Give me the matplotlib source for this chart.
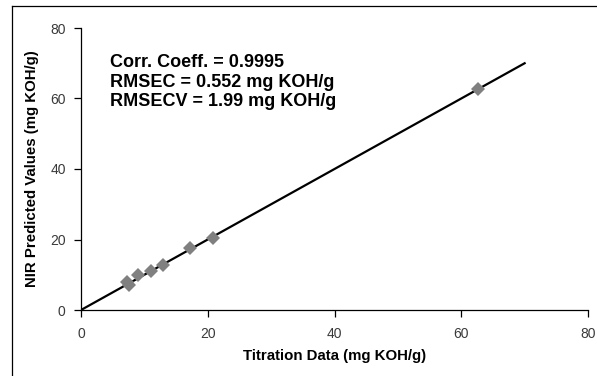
import matplotlib
matplotlib.use("Agg")
import matplotlib.pyplot as plt
from matplotlib.lines import Line2D

plt.rcParams['font.family'] = ['Liberation Sans', 'DejaVu Sans']

titration = [7.2, 7.6, 9.0, 11.1, 13.0, 17.2, 20.9, 62.6]
predicted = [8.0, 7.1, 9.9, 11.1, 12.8, 17.5, 20.3, 62.8]
fit_x = [0, 70]
fit_y = [0, 70]
ticks = [0, 20, 40, 60, 80]
stats_text = ["Corr. Coeff. = 0.9995", "RMSEC = 0.552 mg KOH/g", "RMSECV = 1.99 mg KOH/g"]
stats_y = [69.0, 63.4, 57.8]

fig = plt.figure(figsize=(5.97, 3.76), dpi=100)
ax = fig.add_axes([81/597, 1-310/376, (588-81)/597, (310-28)/376])

ax.plot(fit_x, fit_y, color='black', lw=1.6, zorder=2)
ax.plot(titration, predicted, 'D', color='#808080', markersize=7, markeredgewidth=0, zorder=3)

ax.set_xlim(0, 80)
ax.set_ylim(0, 80)
ax.set_xticks(ticks)
ax.set_yticks(ticks)
ax.spines['top'].set_visible(False)
ax.spines['right'].set_visible(False)
for s in ['left', 'bottom']:
    ax.spines[s].set_linewidth(0.9)
ax.tick_params(direction='out', length=5, width=0.9, labelsize=10, labelcolor='#3a3a3a')
ax.tick_params(axis='x', pad=7)
ax.tick_params(axis='y', pad=6)
ax.set_xlabel("Titration Data (mg KOH/g)", fontsize=10.8, fontweight='bold', labelpad=6)
ax.set_ylabel("NIR Predicted Values (mg KOH/g)", fontsize=10.8, fontweight='bold', labelpad=8)

for txt, yv in zip(stats_text, stats_y):
    ax.text(4.6, yv, txt, fontsize=13, fontweight='bold', va='baseline', ha='left')

# chart-area border (left and top visible)
fig.add_artist(Line2D([12/597, 12/597], [0, 1-6/376], transform=fig.transFigure, color='black', lw=0.9))
fig.add_artist(Line2D([12/597, 1], [1-6/376, 1-6/376], transform=fig.transFigure, color='black', lw=0.9))

fig.savefig("out.png", dpi=100)
